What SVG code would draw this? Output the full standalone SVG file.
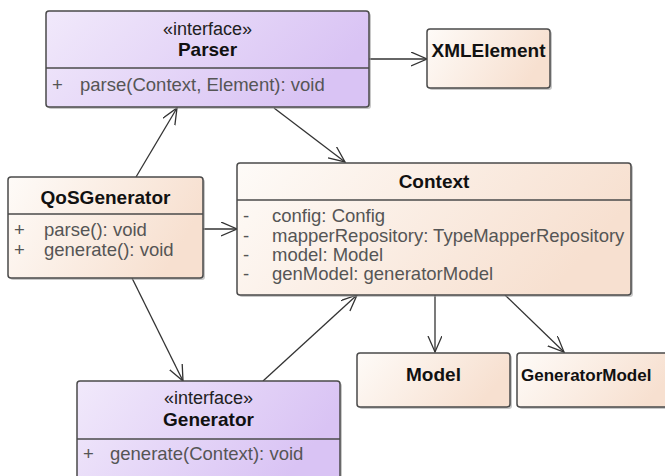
<svg xmlns="http://www.w3.org/2000/svg" width="665" height="476" viewBox="0 0 665 476">
  <defs>
    <linearGradient id="gClass" x1="0" y1="0" x2="1" y2="0.3">
      <stop offset="0" stop-color="#fefbf8"/>
      <stop offset="1" stop-color="#f7e0d0"/>
    </linearGradient>
    <linearGradient id="gIface" x1="0" y1="0" x2="1" y2="0.3">
      <stop offset="0" stop-color="#f1e9fb"/>
      <stop offset="1" stop-color="#d9c3f4"/>
    </linearGradient>
    <marker id="open" markerUnits="userSpaceOnUse" markerWidth="20" markerHeight="20" refX="16" refY="7" orient="auto">
      <path d="M0,0 L16,7 L0,14" fill="none" stroke="#333" stroke-width="1.3"/>
    </marker>
  </defs>
  <style>
    .shadow { fill: #9a9a9a; opacity: 0.55; }
    .cls { fill: url(#gClass); stroke: #4a4a4a; stroke-width: 1.5; }
    .ifc { fill: url(#gIface); stroke: #4a4a4a; stroke-width: 1.5; }
    .div { stroke: #4a4a4a; stroke-width: 1.5; }
    .title { font-family: "Liberation Sans", Arial, sans-serif; font-size: 19px; font-weight: bold; fill: #111; }
    .stereo { font-family: "Liberation Sans", Arial, sans-serif; font-size: 18px; fill: #222; }
    .mem { font-family: "Liberation Sans", Arial, sans-serif; font-size: 18.5px; fill: #555; }
    .edge { fill: none; stroke: #333; stroke-width: 1.3; marker-end: url(#open); }
  </style>

  <rect width="665" height="476" fill="#ffffff"/>

  <!-- relationships -->
  <g id="connectors">
    <line class="edge" x1="369" y1="59" x2="427" y2="59"/>
    <line class="edge" x1="274" y1="108" x2="345" y2="162"/>
    <line class="edge" x1="136" y1="177" x2="177" y2="108"/>
    <line class="edge" x1="203" y1="229" x2="237" y2="229"/>
    <line class="edge" x1="132" y1="278" x2="183" y2="381"/>
    <line class="edge" x1="263" y1="381" x2="357" y2="295"/>
    <line class="edge" x1="435" y1="295" x2="435" y2="352"/>
    <line class="edge" x1="505" y1="295" x2="564" y2="352"/>
  </g>

  <!-- «interface» Parser -->
  <g id="parser">
    <rect class="shadow" x="48" y="13" width="323" height="96" rx="3"/>
    <rect class="ifc" x="46" y="11" width="323" height="96" rx="3"/>
    <line class="div" x1="46" y1="68" x2="369" y2="68"/>
    <text class="stereo" x="207.5" y="35" text-anchor="middle">«interface»</text>
    <text class="title" x="207.5" y="56" text-anchor="middle">Parser</text>
    <text class="mem" x="52" y="91">+</text>
    <text class="mem" x="80" y="91">parse(Context, Element): void</text>
  </g>

  <!-- XMLElement -->
  <g id="xmlelement">
    <rect class="shadow" x="429" y="31" width="123" height="59" rx="3"/>
    <rect class="cls" x="427" y="29" width="123" height="59" rx="3"/>
    <text class="title" x="488.5" y="57" text-anchor="middle">XMLElement</text>
  </g>

  <!-- QoSGenerator -->
  <g id="qosgenerator">
    <rect class="shadow" x="10" y="179" width="195" height="101" rx="3"/>
    <rect class="cls" x="8" y="177" width="195" height="101" rx="3"/>
    <line class="div" x1="8" y1="214" x2="203" y2="214"/>
    <text class="title" x="105.5" y="204" text-anchor="middle">QoSGenerator</text>
    <text class="mem" x="14" y="236">+</text>
    <text class="mem" x="44" y="236">parse(): void</text>
    <text class="mem" x="14" y="255.5">+</text>
    <text class="mem" x="44" y="255.5">generate(): void</text>
  </g>

  <!-- Context -->
  <g id="context">
    <rect class="shadow" x="239" y="165" width="394" height="132" rx="3"/>
    <rect class="cls" x="237" y="163" width="394" height="132" rx="3"/>
    <line class="div" x1="237" y1="200" x2="631" y2="200"/>
    <text class="title" x="434" y="188" text-anchor="middle">Context</text>
    <text class="mem" x="243" y="222">-</text>
    <text class="mem" x="272" y="222">config: Config</text>
    <text class="mem" x="243" y="241.5">-</text>
    <text class="mem" x="272" y="241.5">mapperRepository: TypeMapperRepository</text>
    <text class="mem" x="243" y="261">-</text>
    <text class="mem" x="272" y="261">model: Model</text>
    <text class="mem" x="243" y="280">-</text>
    <text class="mem" x="272" y="280">genModel: generatorModel</text>
  </g>

  <!-- Model -->
  <g id="model">
    <rect class="shadow" x="359" y="355" width="153" height="54" rx="3"/>
    <rect class="cls" x="357" y="353" width="153" height="54" rx="3"/>
    <text class="title" x="433.5" y="381" text-anchor="middle">Model</text>
  </g>

  <!-- GeneratorModel (box runs past the right edge) -->
  <g id="generatormodel">
    <rect class="shadow" x="519" y="355" width="160" height="54" rx="3"/>
    <rect class="cls" x="517" y="353" width="160" height="54" rx="3"/>
    <text class="title" x="521" y="381" style="font-size:17px">GeneratorModel</text>
  </g>

  <!-- «interface» Generator -->
  <g id="generator">
    <rect class="shadow" x="79" y="383" width="263" height="100" rx="3"/>
    <rect class="ifc" x="77" y="381" width="263" height="100" rx="3"/>
    <line class="div" x1="77" y1="439" x2="340" y2="439"/>
    <text class="stereo" x="208.5" y="404" text-anchor="middle">«interface»</text>
    <text class="title" x="208.5" y="426" text-anchor="middle">Generator</text>
    <text class="mem" x="83" y="460">+</text>
    <text class="mem" x="110" y="460">generate(Context): void</text>
  </g>
</svg>
